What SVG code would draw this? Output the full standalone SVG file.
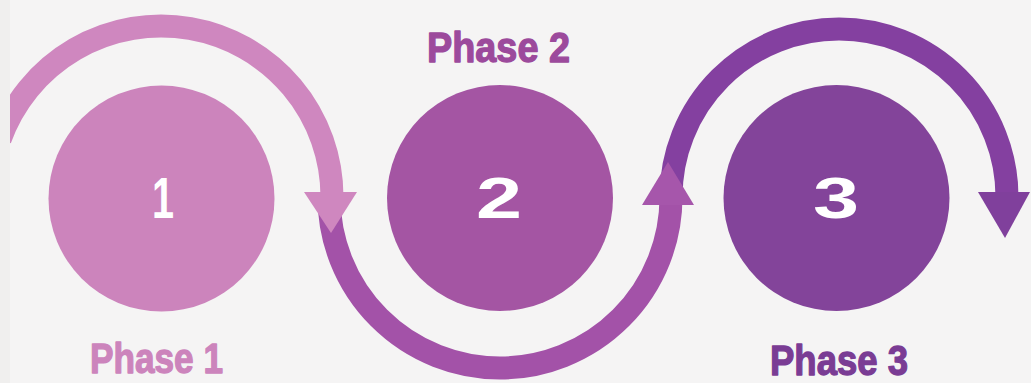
<svg xmlns="http://www.w3.org/2000/svg" width="1031" height="383" viewBox="0 0 1031 383">
  <style>
    .arc { fill: none; stroke-width: 23; stroke-linecap: butt; }
    .digit { font-family: "Liberation Sans", Arial, sans-serif; font-weight: bold; font-size: 57px; fill: #ffffff; }
    .label { font-family: "Liberation Sans", Arial, sans-serif; font-weight: bold; font-size: 42px; stroke-width: 1.3; stroke-linejoin: round; }
  </style>
  <rect x="0" y="0" width="1031" height="383" fill="#f5f4f4"/>

  <g id="node1">
    <circle cx="161.5" cy="198.5" r="113" fill="#cc84bc"/>
    <text class="digit" x="152" y="218" textLength="22" lengthAdjust="spacingAndGlyphs">1</text>
    <text class="label" x="90" y="373" textLength="133" lengthAdjust="spacingAndGlyphs" fill="#cc84bc" stroke="#cc84bc">Phase 1</text>
  </g>
  <g id="node2">
    <circle cx="500" cy="198" r="113" fill="#a455a3"/>
    <text class="digit" x="476" y="218" textLength="46" lengthAdjust="spacingAndGlyphs">2</text>
    <text class="label" x="427" y="62" textLength="143" lengthAdjust="spacingAndGlyphs" fill="#9c4a9c" stroke="#9c4a9c">Phase 2</text>
  </g>
  <g id="node3">
    <circle cx="836.5" cy="198" r="113" fill="#83449a"/>
    <text class="digit" x="813" y="218" textLength="46" lengthAdjust="spacingAndGlyphs">3</text>
    <text class="label" x="770" y="375" textLength="138" lengthAdjust="spacingAndGlyphs" fill="#7a3c94" stroke="#7a3c94">Phase 3</text>
  </g>

  <g id="connectors">
    <path class="arc" d="M 671 197 A 168 168 0 0 1 1007 197" stroke="#8440a0"/>
    <path class="arc" d="M 329 197 A 171 171 0 0 0 671 197" stroke="#a352a8"/>
    <path class="arc" d="M 0 139.4 A 171 171 0 0 1 332 197" stroke="#cf87bf"/>
    <polygon points="304,192 357,192 331,233" fill="#cf87bf"/>
    <polygon points="642,205 694,205 668,162" fill="#a656ab"/>
    <polygon points="978,192 1030,192 1005,238" fill="#80409c"/>
  </g>

  <rect x="0" y="0" width="10" height="383" fill="#f0efee"/>
</svg>
